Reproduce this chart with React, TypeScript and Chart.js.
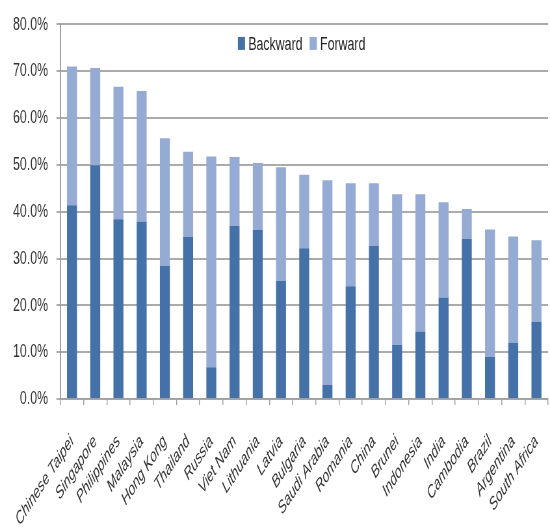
import React, { useEffect, useRef } from "react";
import { Chart, registerables } from "chart.js";

Chart.register(...registerables);

const categories = [
  "Chinese Taipei", "Singapore", "Philippines", "Malaysia", "Hong Kong", "Thailand", "Russia",
  "Viet Nam", "Lithuania", "Latvia", "Bulgaria", "Saudi Arabia", "Romania", "China", "Brunei",
  "Indonesia", "India", "Cambodia", "Brazil", "Argentina", "South Africa",
];
const backward = [41.4, 49.9, 38.4, 37.9, 28.4, 34.6, 6.8, 37.0, 36.1, 25.2, 32.2, 3.0, 24.1, 32.7, 11.6, 14.4, 21.7, 34.2, 9.0, 12.0, 16.5];
const totals = [71.0, 70.7, 66.7, 65.8, 55.7, 52.8, 51.8, 51.7, 50.4, 49.5, 47.9, 46.7, 46.1, 46.1, 43.7, 43.7, 42.0, 40.6, 36.2, 34.7, 33.9];
const forward = totals.map((t, i) => +(t - backward[i]).toFixed(1));
const seriesNames = ["Backward", "Forward"];
const colors = ["#4472A8", "#95ABD4"];

// The reference is horizontally compressed; render wider internally and squeeze with CSS.
const SQUISH = 0.65;
const CSS_W = 550;
const H = 527;
const W = Math.round(CSS_W / SQUISH);

const FONT = "'Liberation Sans', Arial, sans-serif";

const insideLegend = {
  id: "insideLegend",
  afterDraw(chart: any) {
    const { ctx, chartArea } = chart;
    ctx.save();
    ctx.font = `19px ${FONT}`;
    const boxW = 11;
    const boxH = 13;
    const gap = 5;
    const spacing = 11;
    const widths = seriesNames.map((n) => ctx.measureText(n).width);
    const total = widths.reduce((a: number, w: number) => a + boxW + gap + w, 0) + spacing * (seriesNames.length - 1);
    let x = (chartArea.left + chartArea.right) / 2 - total / 2 - 4;
    const y = chartArea.top + 19;
    ctx.textBaseline = "middle";
    ctx.textAlign = "left";
    seriesNames.forEach((n, i) => {
      ctx.fillStyle = colors[i];
      ctx.fillRect(x, y - boxH / 2, boxW, boxH);
      x += boxW + gap;
      ctx.fillStyle = "#262626";
      ctx.fillText(n, x, y + 1);
      x += widths[i] + spacing;
    });
    ctx.restore();
  },
};

export default function App() {
  const ref = useRef<HTMLCanvasElement>(null);
  useEffect(() => {
    const ctx = ref.current!;
    const chart = new Chart(ctx, {
      type: "bar",
      data: {
        labels: categories,
        datasets: [
          { label: seriesNames[0], data: backward, backgroundColor: colors[0], categoryPercentage: 1, barPercentage: 0.43 },
          { label: seriesNames[1], data: forward, backgroundColor: colors[1], categoryPercentage: 1, barPercentage: 0.43 },
        ],
      },
      options: {
        animation: false,
        responsive: false,
        maintainAspectRatio: false,
        devicePixelRatio: 1,
        layout: { padding: { left: 7, right: 3, top: 18, bottom: 0 } },
        plugins: {
          legend: { display: false },
          tooltip: { enabled: false },
        },
        scales: {
          x: {
            stacked: true,
            grid: { display: true, drawOnChartArea: false, drawTicks: true, tickLength: 6, lineWidth: 1.5, color: "#A0A0A0", offset: true },
            border: { color: "#A0A0A0", width: 1.5 },
            ticks: {
              maxRotation: 45,
              minRotation: 45,
              autoSkip: false,
              color: "#333333",
              padding: 26,
              font: { family: FONT, size: 18, style: "italic" },
            },
            afterFit: (scale: any) => {
              scale.height = 128;
              scale.paddingLeft = 0;
              scale.paddingRight = 0;
            },
          },
          y: {
            stacked: true,
            min: 0,
            max: 80,
            grid: { color: "#ABABAB", lineWidth: 2, tickLength: 6 },
            border: { color: "#A0A0A0", width: 2 },
            ticks: {
              stepSize: 10,
              color: "#333333",
              padding: 13,
              font: { family: FONT, size: 19 },
              callback: (v: any) => Number(v).toFixed(1) + "%",
            },
          },
        },
      },
      plugins: [insideLegend],
    });
    return () => chart.destroy();
  }, []);
  return (
    <div style={{ position: "absolute", left: 0, top: 0, width: CSS_W, height: H, background: "#fff", overflow: "hidden" }}>
      <canvas ref={ref} width={W} height={H} style={{ width: CSS_W + "px", height: H + "px", display: "block" }} />
    </div>
  );
}
